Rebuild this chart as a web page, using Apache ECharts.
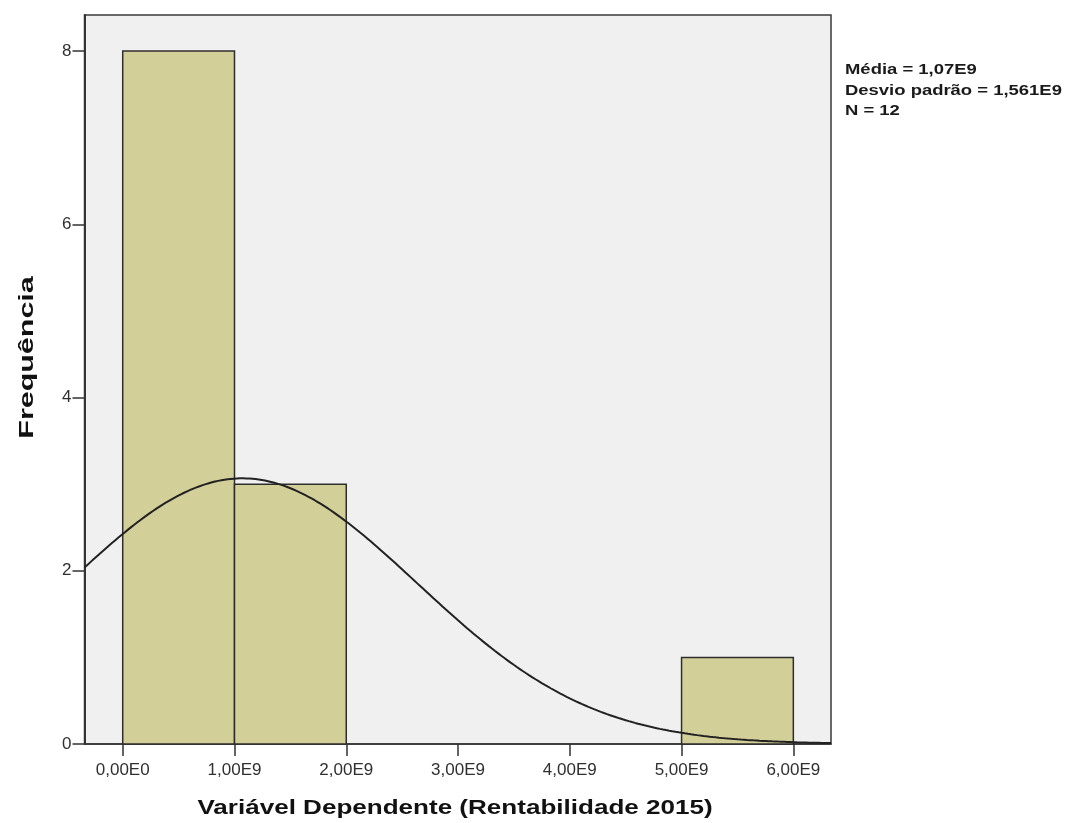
<!DOCTYPE html>
<html>
<head>
<meta charset="utf-8">
<script src="https://cdn.jsdelivr.net/npm/echarts@6/dist/echarts.min.js"></script>
<style>
  html, body { margin: 0; padding: 0; background: #ffffff; }
  #chart { width: 1065px; height: 823px; }
</style>
</head>
<body>
<div id="chart"></div>
<script>
// Histogram bins (lower edge, upper edge) and their frequencies
const binStart = [0, 1e9, 5e9];
const binEnd = [1e9, 2e9, 6e9];
const frequencies = [8, 3, 1];

// Summary statistics shown at the right
const mean = 1.07e9;
const stdDev = 1.561e9;
const nObs = 12;
const binWidth = 1e9;
const statsLines = ['Média = 1,07E9', 'Desvio padrão = 1,561E9', 'N = 12'];

// Tick positions and labels
const xTicks = [0, 1e9, 2e9, 3e9, 4e9, 5e9, 6e9];
const xTickLabels = ['0,00E0', '1,00E9', '2,00E9', '3,00E9', '4,00E9', '5,00E9', '6,00E9'];
const yTicks = [0, 2, 4, 6, 8];

const xTitle = 'Variável Dependente (Rentabilidade 2015)';
const yTitle = 'Frequência';

const xMin = -0.342e9;
const xMax = 6.337e9;
const yMax = 8.416;

// Fitted normal curve scaled to counts: N * binWidth * pdf(x)
const curve = [];
const steps = 240;
for (let i = 0; i <= steps; i++) {
  const x = xMin + (xMax - xMin) * i / steps;
  const z = (x - mean) / stdDev;
  const y = nObs * binWidth * Math.exp(-0.5 * z * z) / (stdDev * Math.sqrt(2 * Math.PI));
  curve.push([x, y]);
}

const bars = binStart.map((s, i) => [s, binEnd[i], frequencies[i]]);

const font = '"Liberation Sans", Arial, sans-serif';
const axisColor = '#333333';

const statsGraphics = statsLines.map((t, i) => ({
  type: 'text',
  x: 845, y: 70 + i * 20.5,
  scaleX: 1.23,
  style: {
    text: t, x: 0, y: 0,
    textAlign: 'left', textVerticalAlign: 'middle',
    fontFamily: font, fontSize: 15, fontWeight: 'bold', fill: '#1a1a1a'
  }
}));

const chart = echarts.init(document.getElementById('chart'));
chart.setOption({
  animation: false,
  backgroundColor: '#ffffff',
  grid: {
    left: 84.5, right: 234, top: 15, bottom: 79,
    outerBoundsMode: 'none',
    containLabel: false,
    show: true,
    backgroundColor: '#f0f0f0',
    borderColor: '#3a3a3a',
    borderWidth: 1.5
  },
  xAxis: {
    type: 'value',
    min: xMin, max: xMax,
    axisLine: { show: true, onZero: false, lineStyle: { color: axisColor, width: 1.5 } },
    axisTick: { show: true, length: 12, customValues: xTicks, lineStyle: { color: axisColor, width: 1.5 } },
    axisLabel: {
      customValues: xTicks,
      margin: 18,
      fontFamily: font, fontSize: 17, color: '#303030',
      formatter: v => {
        const i = xTicks.findIndex(t => Math.abs(t - v) < 1);
        return i >= 0 ? xTickLabels[i] : '';
      }
    },
    splitLine: { show: false }
  },
  yAxis: {
    type: 'value',
    min: 0, max: yMax,
    axisLine: { show: true, onZero: false, lineStyle: { color: axisColor, width: 2 } },
    axisTick: { show: true, length: 12, customValues: yTicks, lineStyle: { color: axisColor, width: 1.5 } },
    axisLabel: { customValues: yTicks, margin: 13, fontFamily: font, fontSize: 17, color: '#303030' },
    splitLine: { show: false }
  },
  graphic: [
    {
      type: 'text',
      x: 455, y: 808,
      scaleX: 1.24,
      style: {
        text: xTitle, x: 0, y: 0,
        textAlign: 'center', textVerticalAlign: 'middle',
        fontFamily: font, fontSize: 21, fontWeight: 'bold', fill: '#111'
      }
    },
    {
      type: 'text',
      x: 27.5, y: 357.5,
      rotation: Math.PI / 2,
      scaleX: 1.45,
      style: {
        text: yTitle, x: 0, y: 0,
        textAlign: 'center', textVerticalAlign: 'middle',
        fontFamily: font, fontSize: 21, fontWeight: 'bold', fill: '#111'
      }
    }
  ].concat(statsGraphics),
  series: [
    {
      type: 'custom',
      data: bars,
      encode: { x: [0, 1], y: 2 },
      renderItem: (params, api) => {
        const p0 = api.coord([api.value(0), 0]);
        const p1 = api.coord([api.value(1), api.value(2)]);
        return {
          type: 'rect',
          shape: { x: p0[0], y: p1[1], width: p1[0] - p0[0], height: p0[1] - p1[1] },
          style: { fill: '#d3cf98', stroke: '#2e2e2e', lineWidth: 1.5 }
        };
      },
      z: 2
    },
    {
      type: 'line',
      data: curve,
      showSymbol: false,
      smooth: false,
      lineStyle: { color: '#222', width: 2 },
      z: 3
    }
  ]
});
</script>
</body>
</html>
